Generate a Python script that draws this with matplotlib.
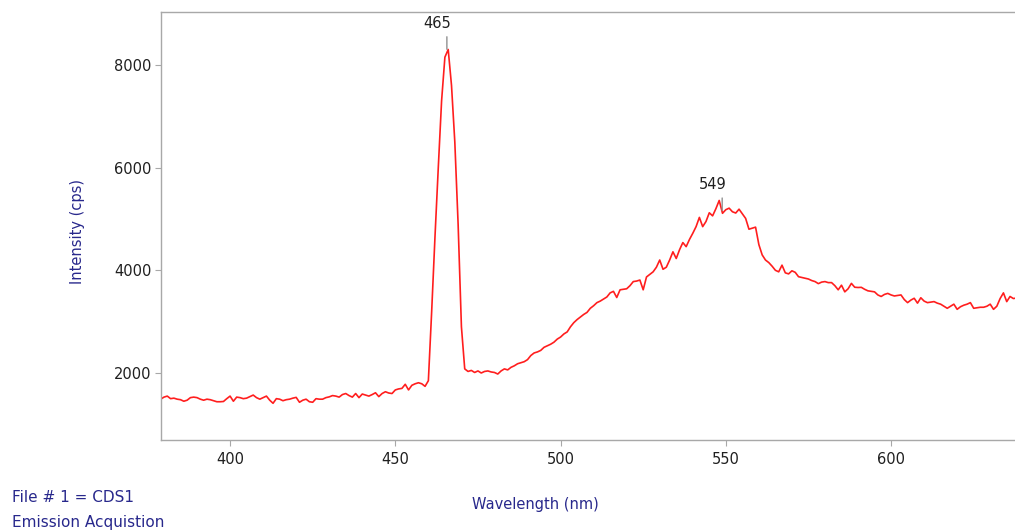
import numpy as np
import matplotlib
matplotlib.use('Agg')
from matplotlib import pyplot as plt

plt.rcParams['font.family'] = ['DejaVu Sans']

# emission spectrum, 1 nm steps from 379 to 638 nm
wl_start = 379
cps_379 = [1490, 1530, 1550, 1500, 1510, 1490, 1480, 1450, 1470, 1520, 1530]
cps_390 = [1520, 1490, 1470, 1490, 1480, 1460, 1440, 1440, 1445, 1500]
cps_400 = [1550, 1450, 1530, 1520, 1500, 1510, 1540, 1570, 1520, 1490]
cps_410 = [1520, 1550, 1470, 1410, 1500, 1490, 1460, 1480, 1490, 1510]
cps_420 = [1525, 1430, 1470, 1490, 1440, 1430, 1500, 1490, 1490, 1520]
cps_430 = [1535, 1560, 1550, 1530, 1580, 1600, 1560, 1530, 1600, 1520]
cps_440 = [1590, 1570, 1550, 1580, 1615, 1540, 1600, 1635, 1610, 1600]
cps_450 = [1670, 1690, 1700, 1780, 1670, 1760, 1790, 1810, 1790, 1740]
cps_460 = [1850, 3200, 4650, 6000, 7300, 8150, 8300, 7600, 6500, 4900]
cps_470 = [2900, 2080, 2030, 2050, 2010, 2040, 2000, 2030, 2040, 2020]
cps_480 = [2010, 1980, 2040, 2080, 2060, 2110, 2140, 2180, 2200, 2220]
cps_490 = [2260, 2340, 2390, 2410, 2440, 2500, 2530, 2560, 2600, 2660]
cps_500 = [2700, 2760, 2800, 2900, 2980, 3040, 3090, 3140, 3180, 3260]
cps_510 = [3310, 3370, 3400, 3440, 3480, 3560, 3590, 3470, 3620, 3630]
cps_520 = [3640, 3700, 3780, 3790, 3810, 3620, 3870, 3920, 3970, 4060]
cps_530 = [4200, 4020, 4060, 4200, 4360, 4230, 4400, 4540, 4460, 4600]
cps_540 = [4720, 4850, 5030, 4850, 4950, 5120, 5060, 5200, 5360, 5110]
cps_550 = [5180, 5210, 5140, 5115, 5190, 5100, 5010, 4800, 4820, 4840]
cps_560 = [4500, 4300, 4200, 4150, 4080, 4000, 3970, 4100, 3950, 3930]
cps_570 = [3990, 3960, 3875, 3860, 3845, 3830, 3800, 3780, 3740, 3770]
cps_580 = [3780, 3760, 3760, 3700, 3620, 3710, 3580, 3640, 3745, 3670]
cps_590 = [3665, 3668, 3630, 3600, 3590, 3580, 3520, 3490, 3530, 3550]
cps_600 = [3520, 3500, 3510, 3520, 3430, 3370, 3420, 3455, 3360, 3465]
cps_610 = [3400, 3370, 3380, 3390, 3360, 3340, 3300, 3260, 3300, 3340]
cps_620 = [3240, 3290, 3320, 3340, 3370, 3260, 3270, 3280, 3280, 3300]
cps_630 = [3340, 3240, 3300, 3450, 3560, 3390, 3490, 3450, 3460]

peaks = [465, 549]
peak_marker = [(465.6, 8250), (548.9, 5110)]

cps = np.array(cps_379 + cps_390 + cps_400 + cps_410 + cps_420 + cps_430 +
               cps_440 + cps_450 + cps_460 + cps_470 + cps_480 + cps_490 +
               cps_500 + cps_510 + cps_520 + cps_530 + cps_540 + cps_550 +
               cps_560 + cps_570 + cps_580 + cps_590 + cps_600 + cps_610 +
               cps_620 + cps_630)
wl = wl_start + np.arange(len(cps))

navy = '#28288c'
grey = '#a8a8a8'

fig = plt.figure(figsize=(10.15, 5.30), dpi=100)
ax = fig.add_axes([161/1015, 90/530, 1 - 161/1015, 428/530])

ax.plot(wl, cps, color='#ff1e1e', linewidth=1.2)

for lab, (px, py) in zip(peaks, peak_marker):
    ax.annotate('', xy=(px, py), xytext=(0, 13), textcoords='offset points',
                arrowprops=dict(arrowstyle='-', color='#909090', lw=1.0))
    ax.annotate(str(lab), xy=(px, py), xytext=(-7, 15), textcoords='offset points',
                ha='center', va='bottom', fontsize=10.5, color='#202020')

ax.set_xlim(379.1, 637.5)
ax.set_ylim(695, 9030)
ax.set_xticks([400, 450, 500, 550, 600])
ax.set_yticks([2000, 4000, 6000, 8000])

for side in ['left', 'top', 'bottom']:
    ax.spines[side].set_color(grey)
    ax.spines[side].set_linewidth(1.0)
ax.spines['right'].set_visible(False)
ax.tick_params(axis='both', direction='out', length=4, width=0.8, color=grey,
               labelsize=10.5, labelcolor='#202020')
ax.tick_params(axis='x', pad=5)
ax.tick_params(axis='y', pad=3)

ax.set_ylabel('Intensity (cps)', color=navy, fontsize=10.5)
ax.yaxis.set_label_coords(-0.089, 0.487)
fig.text(535/1015, 1 - 505/530, 'Wavelength (nm)', color=navy, fontsize=10.5,
         ha='center', va='center')
fig.text(12/1015, 1 - 498/530, 'File # 1 = CDS1', color=navy, fontsize=11,
         ha='left', va='center')
fig.text(12/1015, 1 - 522/530, 'Emission Acquistion', color=navy, fontsize=11,
         ha='left', va='center')

fig.savefig('out.png', dpi=100)
